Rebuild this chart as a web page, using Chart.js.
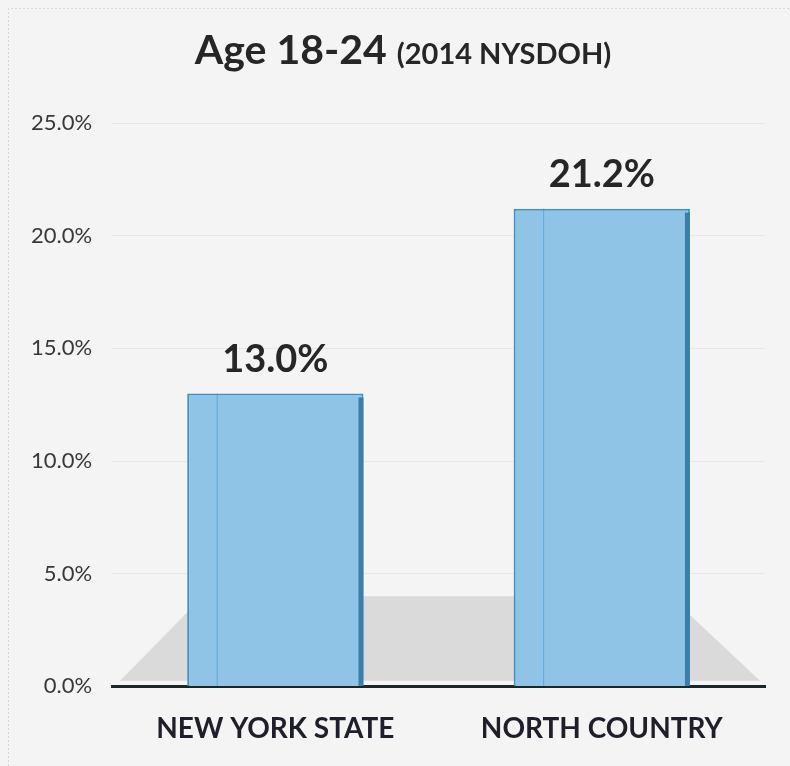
<!DOCTYPE html>
<html>
<head>
<meta charset="utf-8">
<script src="https://cdn.jsdelivr.net/npm/chart.js@4.4.1/dist/chart.umd.min.js"></script>
<style>
  html, body { margin: 0; padding: 0; background: #f4f4f4; }
  #wrap { width: 790px; height: 766px; }
</style>
</head>
<body>
<div id="wrap"><canvas id="ageChart" width="790" height="766"></canvas></div>
<script>
// chart data
const categories = ['NEW YORK STATE', 'NORTH COUNTRY'];
const shareValues = [13.0, 21.2];
const yTicks = [0, 5, 10, 15, 20, 25];
const titleMain = 'Age 18-24';
const titleSub = '(2014 NYSDOH)';

const fontName = 'Lato, "Open Sans", sans-serif';

// page background and the thin scan border
const backdrop = {
    id: 'backdrop',
    beforeDraw(chart) {
        const ctx = chart.ctx;
        ctx.save();
        ctx.fillStyle = '#f4f4f4';
        ctx.fillRect(0, 0, chart.width, chart.height);
        ctx.strokeStyle = '#d6d6d6';
        ctx.lineWidth = 1;
        ctx.setLineDash([2, 2]);
        ctx.beginPath();
        ctx.moveTo(8.5, chart.height);
        ctx.lineTo(8.5, 8.5);
        ctx.lineTo(chart.width, 8.5);
        ctx.stroke();
        ctx.restore();
    }
};

// title with two font sizes
const twoPartTitle = {
    id: 'twoPartTitle',
    afterDraw(chart) {
        const ctx = chart.ctx;
        ctx.save();
        ctx.fillStyle = '#262626';
        ctx.textBaseline = 'alphabetic';
        ctx.font = 'bold 41px ' + fontName;
        const w1 = ctx.measureText(titleMain).width;
        ctx.font = 'bold 29px ' + fontName;
        const w2 = ctx.measureText(titleSub).width;
        const gap = 10;
        let x = (chart.width - (w1 + gap + w2)) / 2 + 8;
        ctx.font = 'bold 41px ' + fontName;
        ctx.fillText(titleMain, x, 64);
        ctx.font = 'bold 29px ' + fontName;
        ctx.fillText(titleSub, x + w1 + gap, 64);
        ctx.restore();
    }
};

// grey floor under the bars
const floorPlane = {
    id: 'floorPlane',
    beforeDatasetsDraw(chart) {
        const ctx = chart.ctx;
        const a = chart.chartArea;
        const y = chart.scales.y;
        const yb = y.getPixelForValue(0.25);
        const yt = y.getPixelForValue(4.0);
        ctx.save();
        ctx.fillStyle = '#dadadb';
        ctx.beginPath();
        ctx.moveTo(a.left + 8, yb);
        ctx.lineTo(a.right - 5, yb);
        ctx.lineTo(a.right - 95, yt);
        ctx.lineTo(a.left + 91, yt);
        ctx.closePath();
        ctx.fill();
        ctx.restore();
    }
};

// darker side face and value labels
const barExtras = {
    id: 'barExtras',
    afterDatasetsDraw(chart) {
        const ctx = chart.ctx;
        const meta = chart.getDatasetMeta(0);
        ctx.save();
        meta.data.forEach((bar, i) => {
            const left = bar.x - bar.width / 2;
            const right = bar.x + bar.width / 2;
            ctx.fillStyle = '#3b7fa9';
            ctx.fillRect(right - 5, bar.y + 4, 5, bar.base - bar.y - 4);
            ctx.strokeStyle = 'rgba(60,150,205,0.6)';
            ctx.lineWidth = 1;
            ctx.beginPath();
            ctx.moveTo(left + 30, bar.y);
            ctx.lineTo(left + 30, bar.base);
            ctx.stroke();
            ctx.fillStyle = '#262626';
            ctx.font = 'bold 38px ' + fontName;
            ctx.textAlign = 'center';
            ctx.textBaseline = 'middle';
            ctx.fillText(shareValues[i].toFixed(1) + '%', bar.x, bar.y - 34);
        });
        ctx.restore();
    }
};

new Chart('ageChart', {
    type: 'bar',
    data: {
        labels: categories,
        datasets: [{
            data: shareValues,
            backgroundColor: '#90c4e7',
            borderColor: '#3e92c2',
            borderWidth: 2,
            barPercentage: 0.54,
            categoryPercentage: 1.0
        }]
    },
    options: {
        responsive: false,
        animation: false,
        layout: {
            padding: { top: 123, right: 25, bottom: -6, left: 11 }
        },
        plugins: {
            legend: { display: false },
            title: { display: false },
            tooltip: { enabled: false }
        },
        scales: {
            x: {
                grid: { display: false, drawTicks: false },
                border: { color: '#1b2626', width: 3 },
                ticks: {
                    padding: 26,
                    color: '#1f1f2b',
                    font: { family: fontName, size: 28, weight: 'bold' }
                }
            },
            y: {
                min: 0,
                max: 25,
                afterBuildTicks(axis) {
                    axis.ticks = yTicks.map(v => ({ value: v }));
                },
                grid: { color: 'rgba(0,0,0,0.05)', drawTicks: false },
                border: { display: false },
                ticks: {
                    padding: 20,
                    color: '#383838',
                    font: { family: fontName, size: 22 },
                    callback: v => v.toFixed(1) + '%'
                }
            }
        }
    },
    plugins: [backdrop, floorPlane, barExtras, twoPartTitle]
});
</script>
</body>
</html>
